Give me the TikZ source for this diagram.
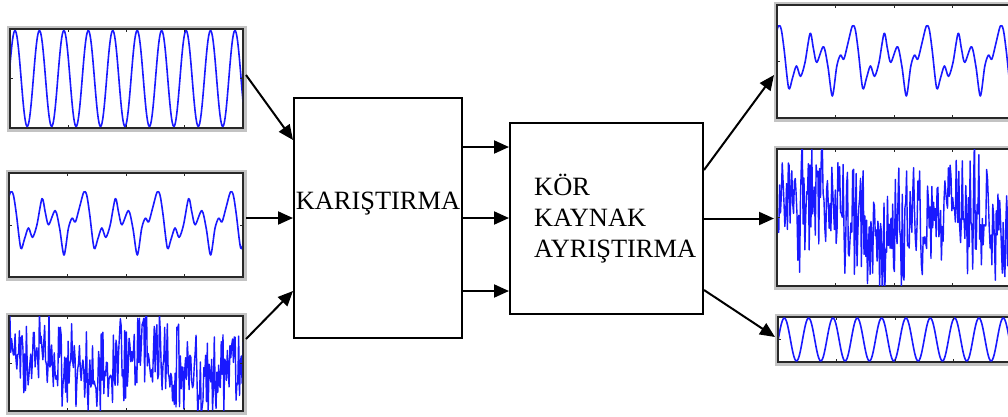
\documentclass[tikz,border=0pt]{standalone}
\usepackage{fontspec}
\setmainfont{Liberation Serif}
\usetikzlibrary{arrows.meta,calc}
\definecolor{wavec}{RGB}{25,25,255}
\definecolor{framec}{RGB}{40,40,40}
\definecolor{rimc}{RGB}{195,195,195}

% clip to the inside of a plot frame
\newcommand\insideof[1]{\clip ([shift={(0.8,0.8)}]#1.north west) rectangle ([shift={(-0.8,-0.8)}]#1.south east);}

% small axis ticks on the four sides of a plot frame
\newcommand\axisticks[1]{%
  \foreach \f in {0.25,0.5,0.75}{
    \draw[tick] ($(#1.north west)!\f!(#1.north east)$) -- ++(0,3);
    \draw[tick] ($(#1.south west)!\f!(#1.south east)$) -- ++(0,-3);
  }
  \draw[tick] (#1.west) -- ++(3,0);
  \draw[tick] (#1.east) -- ++(-3,0);
}

% periodic mixed-sine signal: #1 x of a main peak, #2 centre y, #3 amplitude, #4 period
\newcommand\mixwave[4]{%
  \gdef\wavepts{}%
  \foreach \k in {-1,0,1,2,3}{
    \foreach \t/\v in {0/1.00, 0.04/0.90, 0.08/0.30, 0.14/-0.78, 0.19/-0.50,
                       0.245/-0.14, 0.30/-0.44, 0.36/-0.05, 0.43/0.79, 0.475/0.35,
                       0.52/-0.04, 0.61/0.41, 0.67/-0.15, 0.73/-1.00, 0.79/-0.15,
                       0.84/0.17, 0.885/0.05, 0.94/0.50}{
      \pgfmathsetmacro\px{#1+(\k+\t)*#4}
      \pgfmathsetmacro\py{#2-\v*#3}
      \xdef\wavepts{\wavepts (\px,\py)}
    }
  }
  \edef\wavecmd{\noexpand\draw[wave] plot[smooth, tension=0.5] coordinates {\wavepts};}%
  \wavecmd
}

\begin{document}
\begin{tikzpicture}[x=1pt,y=-1pt,
  plotbox/.style={draw=framec, line width=1.8pt, fill=white, inner sep=0pt, outer sep=0pt,
                  preaction={draw=rimc, line width=7pt}},
  block/.style={draw=black, line width=2pt, inner sep=0pt, fill=white},
  arr/.style={line width=2pt, -{Triangle[length=15pt,width=13pt]}},
  wave/.style={draw=wavec, line width=1.6pt, line join=round},
  noise/.style={draw=wavec, line width=1.4pt, line join=round},
  tick/.style={draw=framec, line width=1pt},
  bigtext/.style={font=\fontsize{26.4}{31}\selectfont, inner sep=0pt}
]
\useasboundingbox (0,0) rectangle (1008,416);

% signal plots
\node[plotbox, minimum width=233pt, minimum height=99pt]  (L1) at (126.5,78.5) {};
\node[plotbox, minimum width=234pt, minimum height=104pt] (L2) at (126,225) {};
\node[plotbox, minimum width=234pt, minimum height=95pt]  (L3) at (126,363.5) {};
\node[plotbox, minimum width=234pt, minimum height=113pt] (R1) at (894,61.5) {};
\node[plotbox, minimum width=234pt, minimum height=137pt] (R2) at (894,217.5) {};
\node[plotbox, minimum width=234pt, minimum height=45pt]  (R3) at (895,339.5) {};

\begin{scope}
  \insideof{L1}
  \draw[wave] plot[domain=8:246, samples=320] (\x,{78.5-48*cos(14.730*(\x-15))});
\end{scope}
\begin{scope}
  \insideof{L2}
  \mixwave{10.5}{223.5}{31.5}{73.3}
\end{scope}
\begin{scope}
  \insideof{L3}
  \pgfmathsetseed{7}
  \draw[noise] plot[domain=9:243, samples=270]
    (\x,{363.5-60*(0.2*sin(\x*3.1)+0.55*rand+0.35*rand)});
\end{scope}
\begin{scope}
  \insideof{R1}
  \mixwave{778.3}{61}{35}{74}
\end{scope}
\begin{scope}
  \insideof{R2}
  \pgfmathsetseed{11}
  \draw[noise] plot[domain=777:1011, samples=270]
    (\x,{217.5-86*(0.2*sin(\x*2.7+40)+0.55*rand+0.35*rand)});
\end{scope}
\begin{scope}
  \insideof{R3}
  \draw[wave] plot[domain=775:1012, samples=320] (\x,{339.5-21.5*cos(14.797*(\x-784.3))});
\end{scope}

\foreach \p in {L1,L2,L3,R1,R2,R3}{\axisticks{\p}}

% processing blocks
\node[block, minimum width=168pt, minimum height=240pt] (B1) at (378,218) {};
\node[block, minimum width=193pt, minimum height=191pt] (B2) at (606.5,218.5) {};

\node[bigtext, anchor=base] (T1) at ([shift={(0,-9)}]B1.center) {KARIŞTIRMA};
\node[bigtext, align=left, anchor=base west] (T2) at ([shift={(25,38.5)}]B2.west)
  {KÖR\\KAYNAK\\AYRIŞTIRMA};

% sources into the mixer
\draw[arr] ([shift={(3,-3.5)}]L1.east) -- ([shift={(0,-78)}]B1.west);
\draw[arr] ([shift={(3,-7)}]L2.east) coordinate (s2) -- (s2 -| B1.west);
\draw[arr] ([shift={(3,-24.5)}]L3.east) -- ([shift={(0,73)}]B1.west);

% mixtures into the separator
\draw[arr] ([shift={(0,-71)}]B1.east) coordinate (m1) -- (m1 -| B2.west);
\draw[arr] (B1.east) coordinate (m2) -- (m2 -| B2.west);
\draw[arr] ([shift={(0,73)}]B1.east) coordinate (m3) -- (m3 -| B2.west);

% separated outputs
\draw[arr] ([shift={(0,-48.5)}]B2.east) -- ([shift={(-3,13.5)}]R1.west);
\draw[arr] (B2.east) -- ([shift={(-3,1)}]R2.west);
\draw[arr] ([shift={(0,71.5)}]B2.east) -- ([shift={(-3,-2.5)}]R3.west);
\end{tikzpicture}
\end{document}
